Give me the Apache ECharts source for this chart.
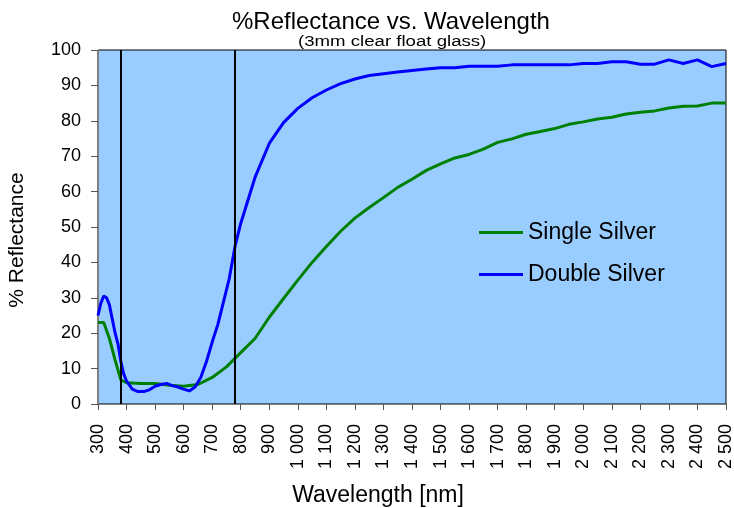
<!DOCTYPE html>
<html>
<head>
<meta charset="utf-8">
<script src="https://cdn.jsdelivr.net/npm/echarts@6/dist/echarts.min.js"></script>
<style>html,body{margin:0;padding:0;background:#fff}#c{width:734px;height:508px}</style>
</head>
<body>
<div id="c"></div>
<script>
const singleNm = [300,320,340,360,380,400,450,500,550,600,650,700,750,800,850,900,950,1000,1050,1100,1150,1200,1250,1300,1350,1400,1450,1500,1550,1600,1650,1700,1750,1800,1850,1900,1950,2000,2050,2100,2150,2200,2250,2300,2350,2400,2450,2500];
const singleVal = [23,23,18.5,12.4,6.8,6,5.8,5.8,5.3,5,5.5,7.5,10.5,14.5,18.5,24.5,29.8,35,40,44.5,48.8,52.5,55.5,58.3,61.2,63.5,66,67.8,69.5,70.5,72,73.9,74.9,76.2,77,77.8,79,79.7,80.5,81,81.9,82.4,82.8,83.6,84.1,84.2,85,85];
const doubleNm = [300,310,320,330,340,350,360,370,380,390,400,420,440,460,480,500,520,540,560,580,600,620,640,660,680,700,720,740,760,780,800,850,900,950,1000,1050,1100,1150,1200,1250,1300,1350,1400,1450,1500,1550,1600,1650,1700,1750,1800,1850,1900,1950,2000,2050,2100,2150,2200,2250,2300,2350,2400,2450,2500];
const doubleVal = [25,28.5,30.5,30,28,24,20,17,12,8.5,6.5,4.2,3.5,3.5,4,5,5.5,5.8,5.2,4.8,4.2,3.7,4.8,7.5,12,17.5,22.5,29,35.5,44.5,51,64,73.6,79.5,83.5,86.5,88.7,90.5,91.8,92.8,93.3,93.8,94.2,94.6,95,95,95.4,95.4,95.4,95.8,95.8,95.8,95.8,95.8,96.2,96.2,96.7,96.7,96,96,97.2,96.2,97.2,95.3,96.2];
const markNm = [380, 780];
const seriesNames = ['Single Silver', 'Double Silver'];
const titleText = '%Reflectance vs. Wavelength';
const subtitleText = '(3mm clear float glass)';

const FONT = 'Liberation Sans, Arial, sans-serif';
// thousands separated by a space, as in the reference ("1 000")
const fmtNm = v => v >= 1000 ? Math.floor(v / 1000) + ' ' + String(v % 1000).padStart(3, '0') : String(v);

const chart = echarts.init(document.getElementById('c'), null, {renderer: 'canvas'});
chart.setOption({
  animation: false,
  backgroundColor: '#ffffff',
  title: [
    {text: titleText, left: 227, top: 5,
     textStyle: {fontFamily: FONT, fontSize: 24, fontWeight: 'normal', color: '#000'}}
  ],
  graphic: [
    {type: 'text', x: 298, y: 35, scaleX: 1.33, silent: true,
     style: {text: subtitleText, font: '14px ' + FONT, fill: '#000'}}
  ],
  legend: {
    orient: 'vertical', left: 474, top: 216, itemGap: 19,
    itemWidth: 44, itemHeight: 3, icon: 'rect', itemTextGap: 3,
    data: seriesNames,
    textStyle: {fontFamily: FONT, fontSize: 23, color: '#000'}
  },
  grid: {left: 98, right: 8, top: 50, bottom: 104, show: true, outerBoundsMode: 'none',
         containLabel: false,
         backgroundColor: '#99CCFF', borderColor: '#000', borderWidth: 1},
  xAxis: {
    type: 'value', min: 300, max: 2500, interval: 100,
    name: 'Wavelength [nm]', nameLocation: 'middle', nameGap: 80,
    nameTextStyle: {fontFamily: FONT, fontSize: 23, color: '#000', padding: [0, 68, 0, 0]},
    axisLine: {lineStyle: {color: '#808080', width: 1}},
    axisTick: {lineStyle: {color: '#555'}, length: 6},
    axisLabel: {rotate: 90, fontFamily: FONT, fontSize: 18, color: '#000', margin: 20,
                formatter: fmtNm},
    splitLine: {show: false}
  },
  yAxis: {
    type: 'value', min: 0, max: 100, interval: 10,
    name: '% Reflectance', nameLocation: 'middle', nameGap: 70,
    nameTextStyle: {fontFamily: FONT, fontSize: 21, color: '#000', padding: [0, 26, 0, 0]},
    axisLine: {show: true, lineStyle: {color: '#808080', width: 1}},
    axisTick: {show: true, lineStyle: {color: '#555'}, length: 7},
    axisLabel: {fontFamily: FONT, fontSize: 18, color: '#000', margin: 17},
    splitLine: {show: false}
  },
  series: [
    {name: seriesNames[0], type: 'line', showSymbol: false, symbol: 'none',
     color: '#008000', lineStyle: {width: 3, color: '#008000'},
     data: singleNm.map((x, i) => [x, singleVal[i]]),
     markLine: {silent: true, symbol: 'none', label: {show: false},
       lineStyle: {color: '#000', width: 2, type: 'solid'},
       data: markNm.map(v => ({xAxis: v}))}},
    {name: seriesNames[1], type: 'line', showSymbol: false, symbol: 'none',
     color: '#0000FF', lineStyle: {width: 3, color: '#0000FF'},
     data: doubleNm.map((x, i) => [x, doubleVal[i]])}
  ]
});
</script>
</body>
</html>
